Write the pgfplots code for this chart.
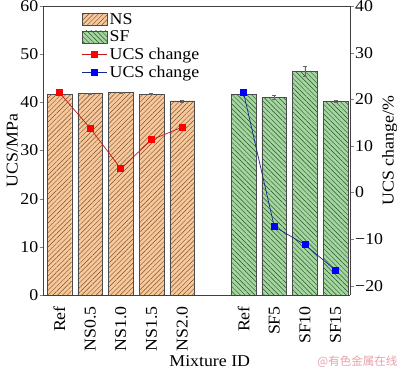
\documentclass[border=0pt]{standalone}
\usepackage{fontspec}
\setmainfont{Liberation Serif}[FakeStretch=1.08]
\newfontfamily\cjk{Noto Sans CJK SC}
\usepackage{pgfplots}
\pgfplotsset{compat=1.18}
\usetikzlibrary{patterns.meta}
\definecolor{nsfill}{RGB}{248,200,154}
\definecolor{nsline}{RGB}{120,80,50}
\definecolor{sffill}{RGB}{164,214,160}
\definecolor{sfline}{RGB}{40,80,40}
\definecolor{redl}{RGB}{200,20,20}
\definecolor{bluel}{RGB}{20,40,140}
\definecolor{wm}{RGB}{232,160,168}
\pgfplotsset{
  barleg/.style={legend image code/.code={\draw[##1] (0pt,-6pt) rectangle (25pt,6pt);}},
  lineleg/.style={legend image code/.code={\draw[mark repeat=2,mark phase=2,##1] plot coordinates {(0pt,0pt) (12.5pt,0pt) (25pt,0pt)};}},
}
\begin{document}
\begin{tikzpicture}
\pgfplotsset{every axis/.append style={
  scale only axis, width=306.5pt, height=289pt,
  xmin=-0.52, xmax=9.47,
  font=\fontsize{16.5}{19}\selectfont,
  tick align=outside,
  major tick length=3.5pt,
  yticklabel style={inner sep=1.5pt},
  axis line style={black!75},
  /pgf/number format/assume math mode=true,
}}
\begin{axis}[
  ymin=0, ymax=60,
  axis y line*=left,
  ytick={0,10,...,60},
  xtick={0,1,2,3,4,6,7,8,9},
  xticklabels={Ref,NS0.5,NS1.0,NS1.5,NS2.0,Ref,SF5,SF10,SF15},
  x tick label style={rotate=90, anchor=east, inner sep=7.5pt},
  xtick style={draw=none},
  ylabel={UCS/MPa},
  xlabel={Mixture ID},
  ylabel style={at={([xshift=-25.5pt]axis description cs:0,0.5)}, anchor=south, inner sep=0pt},
  xlabel style={yshift=7pt, xshift=13pt},
  legend style={at={(0.115,0.99)}, anchor=north west, draw=none, fill=none,
    row sep=1pt, font=\fontsize{16.5}{17}\selectfont},
  legend cell align=left,
]
\addplot[ybar, bar width=0.8, draw=black!70, fill=nsfill,
  postaction={pattern={Lines[angle=45,distance=3.4pt,line width=0.45pt]}, pattern color=nsline},
  barleg,
  error bars/.cd, y dir=both, y explicit, error bar style={black!60}, error mark options={rotate=90,mark size=2pt,black!60}]
coordinates {
 (0,41.7) +- (0,0.1)
 (1,41.8) +- (0,0.1)
 (2,42.0) +- (0,0.1)
 (3,41.7) +- (0,0.1)
 (4,40.3) +- (0,0.2)
};
\addlegendentry{NS}
\addplot[ybar, bar width=0.8, draw=black!70, fill=sffill,
  postaction={pattern={Lines[angle=-45,distance=3.4pt,line width=0.45pt]}, pattern color=sfline},
  barleg,
  error bars/.cd, y dir=both, y explicit, error bar style={black!60}, error mark options={rotate=90,mark size=2pt,black!60}]
coordinates {
 (6,41.7) +- (0,0.1)
 (7,41.0) +- (0,0.4)
 (8,46.5) +- (0,1.1)
 (9,40.2) +- (0,0.2)
};
\addlegendentry{SF}
\addlegendimage{redl, line width=0.7pt, mark=square*, mark options={fill=red, draw=red}, mark size=3pt, lineleg}
\addlegendentry{UCS change}
\addlegendimage{bluel, line width=0.7pt, mark=square*, mark options={fill=blue, draw=blue}, mark size=3pt, lineleg}
\addlegendentry{UCS change}
\end{axis}
\begin{axis}[
  ymin=-22, ymax=40,
  axis y line*=right,
  axis x line=none,
  clip=false,
  ytick={-20,-10,0,10,20,30,40},
  yticklabels={−20,−10,0,10,20,30,40},
  ylabel={UCS change/\%},
  ylabel style={at={([xshift=32pt]axis description cs:1,0.5)}, anchor=north, inner sep=0pt},
]
\addplot[redl, line width=0.7pt, mark=square*, mark options={fill=red, draw=red}, mark size=3pt]
coordinates {(0,21.4) (1,13.8) (2,5.1) (3,11.3) (4,14.0)};
\addplot[bluel, line width=0.7pt, mark=square*, mark options={fill=blue, draw=blue}, mark size=3pt]
coordinates {(6,21.4) (7,-7.3) (8,-11.2) (9,-16.7)};
\node[anchor=east, text=wm, font=\cjk\fontsize{11.5}{13}\selectfont, inner sep=0pt] at (rel axis cs:1.155,-0.232) {@有色金属在线};
\coordinate (sw) at (rel axis cs:0,0);
\coordinate (ne) at (rel axis cs:1,1);
\end{axis}
\pgfresetboundingbox
\path ([shift={(-43.5pt,-77pt)}]sw) rectangle ([shift={(50pt,6pt)}]ne);
\end{tikzpicture}
\end{document}
